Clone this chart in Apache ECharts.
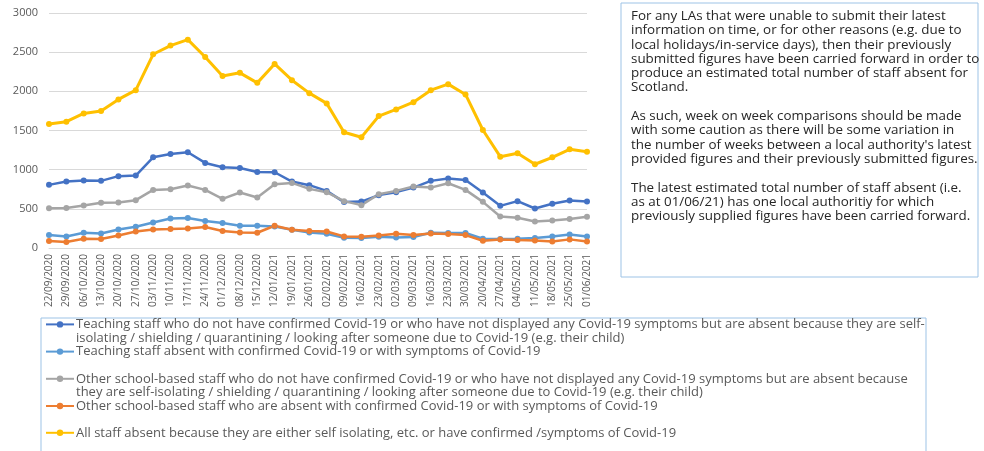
<!DOCTYPE html>
<html>
<head>
<meta charset="utf-8">
<script src="https://cdn.jsdelivr.net/npm/echarts@6/dist/echarts.min.js"></script>
<style>
  html, body { margin: 0; padding: 0; background: #fff; }
  #chart { width: 984px; height: 451px; }
</style>
</head>
<body>
<div id="chart"></div>
<script>
// week dates (x axis)
const dates = ['22/09/2020', '29/09/2020', '06/10/2020', '13/10/2020', '20/10/2020', '27/10/2020',
  '03/11/2020', '10/11/2020', '17/11/2020', '24/11/2020', '01/12/2020', '08/12/2020', '15/12/2020',
  '12/01/2021', '19/01/2021', '26/01/2021', '02/02/2021', '09/02/2021', '16/02/2021', '23/02/2021',
  '02/03/2021', '09/03/2021', '16/03/2021', '23/03/2021', '30/03/2021', '20/04/2021', '27/04/2021',
  '04/05/2021', '11/05/2021', '18/05/2021', '25/05/2021', '01/06/2021'];

// values
const teachingNoConfirmed = [806, 848, 861, 857, 917, 925, 1158, 1200, 1222, 1086, 1031, 1022, 971,
  967, 848, 802, 729, 586, 593, 675, 713, 771, 857, 886, 869, 708, 538, 598, 504, 564, 606, 593];
const teachingConfirmed = [165, 148, 195, 186, 237, 271, 326, 377, 382, 344, 318, 284, 284,
  275, 233, 199, 182, 131, 127, 144, 135, 140, 195, 191, 191, 118, 115, 118, 127, 148, 173, 148];
const otherNoConfirmed = [509, 512, 542, 577, 581, 611, 742, 751, 797, 742, 628, 708, 644,
  815, 831, 755, 713, 598, 547, 687, 729, 784, 771, 827, 742, 589, 402, 386, 339, 352, 369, 398];
const otherConfirmed = [89, 76, 118, 115, 160, 211, 237, 242, 250, 267, 216, 199, 195,
  284, 233, 216, 211, 148, 144, 160, 182, 165, 186, 178, 165, 93, 110, 102, 97, 84, 110, 84];
const allStaff = [1582, 1612, 1718, 1748, 1897, 2015, 2473, 2584, 2660, 2439, 2197, 2236, 2108,
  2350, 2142, 1977, 1846, 1477, 1413, 1684, 1769, 1862, 2015, 2092, 1960, 1506, 1166, 1209, 1069, 1158, 1260, 1230];

const seriesNames = [
  'Teaching staff who do not have confirmed Covid-19 or who have not displayed any Covid-19 symptoms but are absent because they are self-\nisolating / shielding / quarantining / looking after someone due to Covid-19 (e.g. their child)',
  'Teaching staff absent with confirmed Covid-19 or with symptoms of Covid-19',
  'Other school-based staff who do not have confirmed Covid-19 or who have not displayed any Covid-19 symptoms but are absent because\nthey are self-isolating / shielding / quarantining / looking after someone due to Covid-19 (e.g. their child)',
  'Other school-based staff who are absent with confirmed Covid-19 or with symptoms of Covid-19',
  'All staff absent because they are either self isolating, etc. or have confirmed /symptoms of Covid-19'
];
const seriesValues = [teachingNoConfirmed, teachingConfirmed, otherNoConfirmed, otherConfirmed, allStaff];
const seriesColors = ['#4472C4', '#5B9BD5', '#A5A5A5', '#ED7D31', '#FFC000'];

const noteText = [
  'For any LAs that were unable to submit their latest',
  'information on time, or for other reasons (e.g. due to',
  'local holidays/in-service days), then their previously',
  'submitted figures have been carried forward in order to',
  'produce an estimated total number of staff absent for',
  'Scotland.',
  '',
  'As such, week on week comparisons should be made',
  'with some caution as there will be some variation in',
  "the number of weeks between a local authority's latest",
  'provided figures and their previously submitted figures.',
  '',
  'The latest estimated total number of staff absent (i.e.',
  'as at 01/06/21) has one local authoritiy for which',
  'previously supplied figures have been carried forward.'
].join('\n');

const chart = echarts.init(document.getElementById('chart'));

const series = seriesNames.map((name, i) => ({
  name: name,
  type: 'line',
  data: seriesValues[i],
  symbol: 'circle',
  symbolSize: 6,
  lineStyle: { width: i === 4 ? 3 : 2.5, color: seriesColors[i] },
  itemStyle: { color: seriesColors[i] },
  z: i === 4 ? 3 : 2
}));

const legendText = { color: '#595959', fontSize: 13, lineHeight: 13.6, padding: [0, 0, 0, -3] };
const legendBase = {
  orient: 'vertical',
  left: 45,
  padding: 0,
  itemGap: 0,
  itemWidth: 28,
  itemHeight: 8,
  height: 200,
  textStyle: legendText
};

const option = {
  animation: false,
  textStyle: { fontFamily: 'Open Sans' },
  grid: { left: 49, right: 397, top: 13, bottom: 203 },
  xAxis: {
    type: 'category',
    data: dates,
    boundaryGap: false,
    axisLine: { lineStyle: { color: '#D9D9D9' } },
    axisTick: { show: false },
    axisLabel: { rotate: 90, color: '#595959', fontSize: 10, margin: 6, interval: 0 }
  },
  yAxis: {
    type: 'value',
    min: 0,
    max: 3000,
    interval: 500,
    axisLine: { show: false },
    axisTick: { show: false },
    axisLabel: { color: '#595959', fontSize: 11, margin: 11, formatter: v => String(v) },
    splitLine: { lineStyle: { color: '#D9D9D9' } }
  },
  legend: [
    Object.assign({}, legendBase, {
      top: 304,
      data: seriesNames.slice(0, 4),
      formatter: function (name) {
        const i = seriesNames.indexOf(name);
        // blank line above keeps the icon beside the first line, as in the picture
        return (i === 0 || i === 2) ? '\n' + name : name;
      }
    }),
    Object.assign({}, legendBase, {
      top: 426,
      data: seriesNames.slice(4)
    })
  ],
  graphic: [
    {
      type: 'rect',
      shape: { x: 41, y: 318, width: 885, height: 140 },
      style: { fill: 'none', stroke: '#9DC3E6', lineWidth: 1 },
      silent: true
    },
    {
      type: 'rect',
      shape: { x: 621, y: 3, width: 357, height: 274 },
      style: { fill: '#fff', stroke: '#9DC3E6', lineWidth: 1 },
      silent: true
    },
    {
      type: 'text',
      x: 631,
      y: 9,
      style: {
        text: noteText,
        fill: '#262626',
        font: '13.4px "Open Sans"',
        lineHeight: 14.3
      },
      silent: true
    }
  ],
  series: series
};

chart.setOption(option);
</script>
</body>
</html>
